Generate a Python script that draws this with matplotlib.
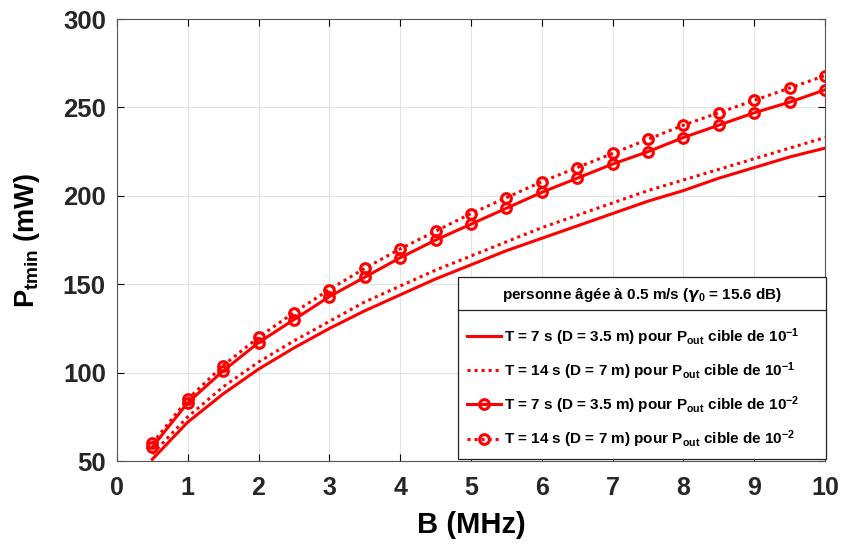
import matplotlib
matplotlib.use("Agg")
import matplotlib.pyplot as plt
from matplotlib.lines import Line2D

plt.rcParams['font.family'] = ['Liberation Sans', 'DejaVu Sans']
plt.rcParams['font.weight'] = 'bold'
plt.rcParams['mathtext.default'] = 'regular'

# bande B (MHz)
B = [0.5, 1, 1.5, 2, 2.5, 3, 3.5, 4, 4.5, 5, 5.5, 6, 6.5, 7, 7.5, 8, 8.5, 9, 9.5, 10]

# Pout cible 10^-1
p_t7_e1 = [51, 72, 88, 102, 114, 125, 135, 144, 153, 161, 169, 176, 183, 190, 197, 203, 210, 216, 222, 227]
p_t14_e1 = [54, 75, 92, 106, 118, 129, 140, 149, 158, 166, 174, 182, 189, 196, 203, 209, 215, 221, 227, 233]
# Pout cible 10^-2
p_t7_e2 = [58, 83, 101, 117, 130, 143, 154, 165, 175, 184, 193, 202, 210, 218, 225, 233, 240, 247, 253, 260]
p_t14_e2 = [60, 85, 104, 120, 134, 147, 159, 170, 180, 190, 199, 208, 216, 224, 232, 240, 247, 254, 261, 268]

labels = [
    'T = 7 s (D = 3.5 m) pour P$_{out}$ cible de 10$^{-1}$',
    'T = 14 s (D = 7 m) pour P$_{out}$ cible de 10$^{-1}$',
    'T = 7 s (D = 3.5 m) pour P$_{out}$ cible de 10$^{-2}$',
    'T = 14 s (D = 7 m) pour P$_{out}$ cible de 10$^{-2}$',
]
titre = r'personne âgée à 0.5 m/s ($\mathit{\gamma}_0$ = 15.6 dB)'

rouge = '#ff0000'
pointille = (0, (1, 1.3))

fig = plt.figure(figsize=(8.41, 5.45), dpi=100)
ax = fig.add_axes([0.139, 0.154, 0.842, 0.811])

ax.plot(B, p_t7_e1, color=rouge, lw=2.2, ls='-', label=labels[0])
ax.plot(B, p_t14_e1, color=rouge, lw=2.2, ls=pointille, label=labels[1])
ax.plot(B, p_t7_e2, color=rouge, lw=2.2, ls='-', marker='o', ms=7,
        mfc='none', mew=2.2, label=labels[2])
ax.plot(B, p_t14_e2, color=rouge, lw=2.2, ls=pointille, marker='o', ms=7,
        mfc='none', mew=2.2, label=labels[3])

ax.set_xlim(0, 10)
ax.set_ylim(50, 300)
ax.set_xticks(range(0, 11))
ax.set_yticks(range(50, 301, 50))
ax.tick_params(direction='in', top=True, right=True, length=5, width=0.8)
ax.tick_params(axis='x', pad=11)
ax.tick_params(axis='y', pad=8)
for t in ax.get_xticklabels():
    t.set_family(['Liberation Sans Narrow', 'Liberation Sans'])
    t.set_fontsize(18)
    t.set_fontweight('bold')
    t.set_color('#262626')
for t in ax.get_yticklabels():
    t.set_fontsize(18.5)
    t.set_fontweight('bold')
    t.set_color('#262626')
ax.grid(True, color='#e3e3e3', lw=0.8)
ax.set_axisbelow(True)
for s in ax.spines.values():
    s.set_color('#555555')
    s.set_linewidth(0.8)

ax.set_xlabel('B (MHz)', fontsize=21, fontweight='bold', labelpad=8)
ax.set_ylabel('P$_{tmin}$ (mW)', fontsize=19.5, fontweight='bold', labelpad=15)

leg = ax.legend(loc='lower left', bbox_to_anchor=(0.4816, 0.0045, 0.5198, 0.4),
                mode='expand', title=titre, fontsize=11,
                title_fontproperties={'size': 11, 'weight': 'bold'},
                handlelength=2.2, handletextpad=0.2, labelspacing=0.82,
                borderaxespad=0, borderpad=0.6, fancybox=False,
                edgecolor='#222222', framealpha=1)
leg.get_frame().set_linewidth(0.9)
leg._legend_box.sep = 16

# ligne de separation sous le titre de la legende
fig.canvas.draw()
fb = leg.get_frame().get_window_extent()
tb = leg.get_title().get_window_extent()
inv = fig.transFigure.inverted()
y_sep = tb.y0 - 6
x0, y0 = inv.transform((fb.x0, y_sep))
x1, _ = inv.transform((fb.x1, y_sep))
fig.add_artist(Line2D([x0, x1], [y0, y0], color='#222222', lw=0.9,
                      transform=fig.transFigure))

fig.savefig('out.png', dpi=100)
